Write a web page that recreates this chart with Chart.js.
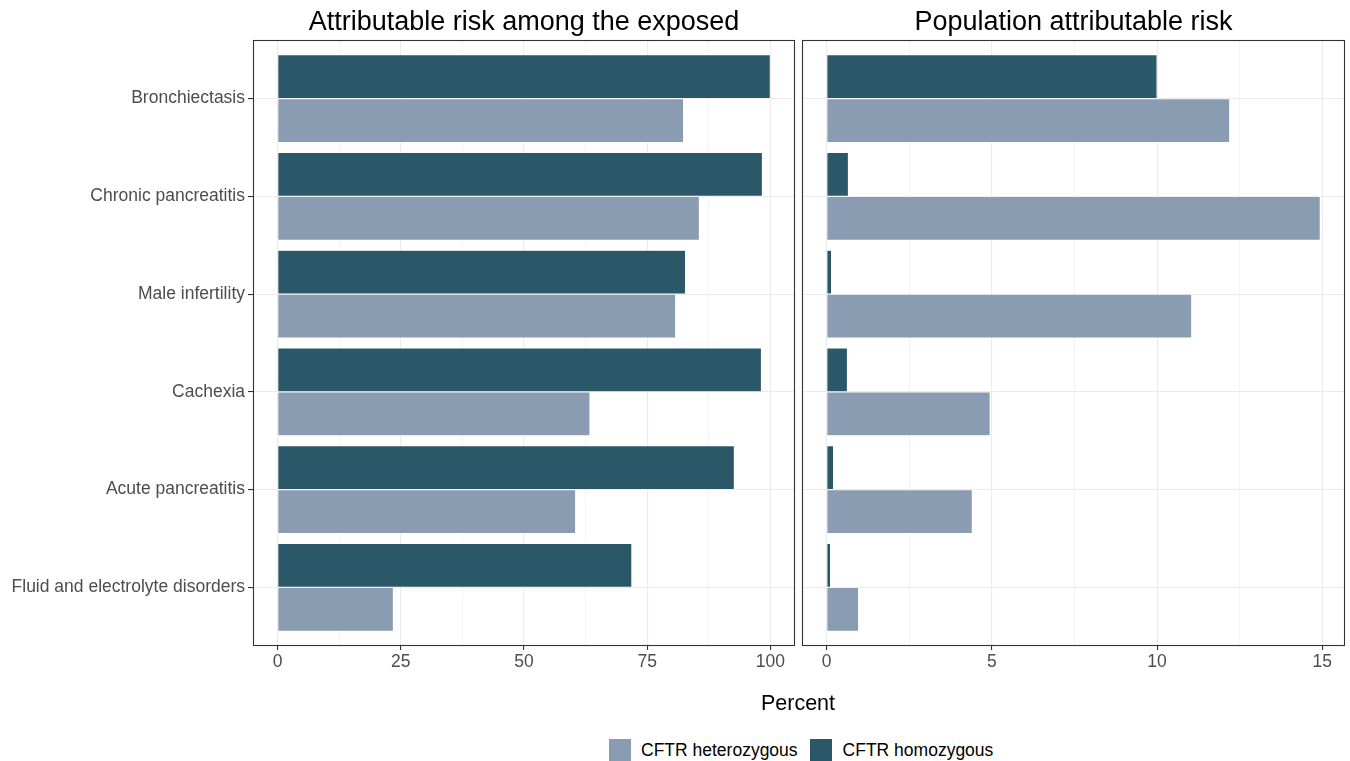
<!DOCTYPE html>
<html>
<head>
<meta charset="utf-8">
<script src="https://cdn.jsdelivr.net/npm/chart.js@4/dist/chart.umd.min.js"></script>
<style>
  html, body { margin: 0; padding: 0; background: #fff; }
  body { width: 1350px; height: 761px; position: relative; overflow: hidden;
         font-family: "Liberation Sans", Arial, Helvetica, sans-serif; }
  canvas { position: absolute; top: 0; }
  .ptitle { position: absolute; top: 6px; height: 30px; line-height: 30px; font-size: 27px;
            color: #000; text-align: center; white-space: nowrap; }
  #xtitle { position: absolute; left: 0; width: 1350px; padding-left: 246px; box-sizing: border-box;
            top: 691px; line-height: 24px; font-size: 21.5px; text-align: center; color: #000; }
  #legend { position: absolute; top: 739px; left: 609px; height: 22px; display: flex; align-items: center;
            font-size: 17.5px; color: #000; white-space: nowrap; }
  .sw { width: 22px; height: 22px; display: inline-block; }
</style>
</head>
<body>
<canvas id="left" width="800" height="700" style="left:0"></canvas>
<canvas id="right" width="553" height="700" style="left:797px"></canvas>
<div class="ptitle" style="left:253px;width:542px">Attributable risk among the exposed</div>
<div class="ptitle" style="left:802px;width:543px">Population attributable risk</div>
<div id="xtitle">Percent</div>
<div id="legend">
  <span class="sw" style="background:#8A9CB1"></span><span style="margin-left:10px;margin-right:12px">CFTR heterozygous</span>
  <span class="sw" style="background:#2B5869"></span><span style="margin-left:11px">CFTR homozygous</span>
</div>
<script>
// Conditions, top to bottom
const categories = [
  'Bronchiectasis',
  'Chronic pancreatitis',
  'Male infertility',
  'Cachexia',
  'Acute pancreatitis',
  'Fluid and electrolyte disorders'
];

// Attributable risk among the exposed (%)
const arHomozygous   = [100, 98.4, 82.8, 98.2, 92.7, 71.9];
const arHeterozygous = [82.4, 85.6, 80.8, 63.4, 60.5, 23.5];

// Population attributable risk (%)
const parHomozygous   = [10.0, 0.66, 0.15, 0.63, 0.21, 0.12];
const parHeterozygous = [12.2, 14.94, 11.05, 4.95, 4.41, 0.97];

// Axis ticks (major labelled, minor grid only)
const arTicks  = [0, 12.5, 25, 37.5, 50, 62.5, 75, 87.5, 100];
const arMajor  = [0, 25, 50, 75, 100];
const parTicks = [0, 2.5, 5, 7.5, 10, 12.5, 15];
const parMajor = [0, 5, 10, 15];

const seriesNames = ['CFTR homozygous', 'CFTR heterozygous'];
const colHomo = '#2B5869';
const colHetero = '#8A9CB1';
const FONT = '"Liberation Sans", Arial, Helvetica, sans-serif';
const AXIS_SIZE = 17.5;

const panelBorder = {
  id: 'panelBorder',
  afterDraw(chart) {
    const a = chart.chartArea, ctx = chart.ctx;
    ctx.save();
    ctx.strokeStyle = '#333333';
    ctx.lineWidth = 1.1;
    ctx.strokeRect(a.left + 0.5, a.top + 0.5, a.right - a.left - 1, a.bottom - a.top - 1);
    ctx.restore();
  }
};

function points(vals) {
  return vals.map((v, i) => ({ x: v, y: i }));
}

function makeChart(id, homo, hetero, ticks, major, xmin, xmax, yAxisWidth, showY) {
  return new Chart(document.getElementById(id), {
    type: 'bar',
    data: {
      datasets: [
        { label: seriesNames[0], data: points(homo), backgroundColor: colHomo,
          borderColor: 'rgba(255,255,255,0.6)', borderWidth: 0.6 },
        { label: seriesNames[1], data: points(hetero), backgroundColor: colHetero,
          borderColor: 'rgba(255,255,255,0.6)', borderWidth: 0.6 }
      ]
    },
    options: {
      indexAxis: 'y',
      responsive: false,
      animation: false,
      categoryPercentage: 0.9,
      barPercentage: 1.0,
      layout: { padding: { left: 0, right: 5, top: 40, bottom: 0 } },
      plugins: { legend: { display: false }, tooltip: { enabled: false } },
      scales: {
        x: {
          type: 'linear',
          min: xmin, max: xmax,
          afterBuildTicks: s => { s.ticks = ticks.map(v => ({ value: v })); },
          afterFit: s => { s.height = 54; },
          border: { display: false },
          grid: {
            color: '#EBEBEB',
            lineWidth: c => (c.tick && major.includes(c.tick.value)) ? 1.1 : 0.55,
            tickColor: c => (c.tick && major.includes(c.tick.value)) ? '#333333' : 'rgba(0,0,0,0)',
            tickLength: 4,
            drawTicks: true
          },
          ticks: {
            autoSkip: false,
            maxRotation: 0,
            padding: 2,
            color: '#4D4D4D',
            font: { family: FONT, size: AXIS_SIZE },
            callback: v => major.includes(v) ? String(v) : ''
          }
        },
        y: {
          type: 'linear',
          reverse: true,
          offset: false,
          min: -0.6, max: 5.6,
          afterBuildTicks: s => { s.ticks = categories.map((c, i) => ({ value: i })); },
          afterFit: s => { s.width = yAxisWidth; },
          border: { display: false },
          grid: {
            offset: false,
            color: '#EBEBEB',
            lineWidth: 1.1,
            tickColor: '#333333',
            tickLength: showY ? 5 : 0,
            drawTicks: showY
          },
          ticks: {
            display: showY,
            autoSkip: false,
            padding: 3,
            color: '#4D4D4D',
            font: { family: FONT, size: AXIS_SIZE },
            callback: v => categories[v] ?? ''
          }
        }
      }
    },
    plugins: [panelBorder]
  });
}

makeChart('left', arHomozygous, arHeterozygous, arTicks, arMajor, -5, 105, 253, true);
makeChart('right', parHomozygous, parHeterozygous, parTicks, parMajor, -0.747, 15.687, 5, false);
</script>
</body>
</html>
